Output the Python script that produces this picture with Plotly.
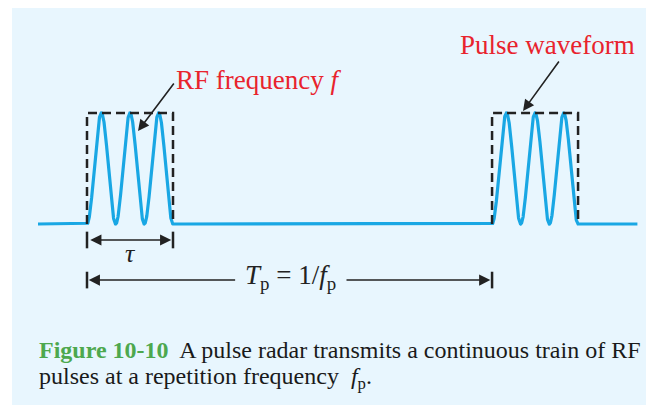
import numpy as np
import plotly.graph_objects as go

# pulse train description (time in units of tau, amplitude normalised)
tau = 1.0
T_p = 4.71
pulse_starts = [0.0, T_p]
cycles_per_pulse = 3
t_begin, t_end = -0.57, 6.4

blue = "#19A7E4"
red = "#E8232D"
green = "#4DA84E"
serif = "Liberation Serif, Times New Roman, serif"

# page body has an 8px margin, so the figure is sized to fit the window
W, H, OFF = 646, 399, 8

# build the waveform: flat line with raised-cosine RF bursts
t = np.linspace(t_begin, t_end, 4000)
t = np.sort(np.concatenate([t] + [np.array([s, s + tau]) for s in pulse_starts]))
y = np.zeros_like(t)
for s in pulse_starts:
    m = (t >= s) & (t <= s + tau)
    y[m] = (1 - np.cos(2 * np.pi * cycles_per_pulse * (t[m] - s) / tau)) / 2

fig = go.Figure()

# light blue panel
fig.add_shape(type="rect", xref="paper", yref="paper", x0=(12-OFF)/W, x1=1, y0=1-(405-OFF)/H, y1=1,
              fillcolor="#E8F6FE", line_width=0, layer="below")

fig.add_trace(go.Scatter(x=t, y=y, mode="lines", line=dict(color=blue, width=3.2), hoverinfo="skip"))

# dashed envelope boxes
for s in pulse_starts:
    fig.add_trace(go.Scatter(x=[s, s, s + tau, s + tau], y=[0, 1, 1, 0], mode="lines",
                             line=dict(color="#222222", width=2.5, dash="9px,5px"), hoverinfo="skip"))

# tick bars for tau and Tp
tau_y, tp_y = -0.144, -0.505
for xb, yb in [(0, tau_y), (tau, tau_y), (0, tp_y), (T_p, tp_y)]:
    fig.add_trace(go.Scatter(x=[xb, xb], y=[yb - 0.075, yb + 0.075], mode="lines",
                             line=dict(color="#222222", width=2.5), hoverinfo="skip"))

anns = []
arrow = dict(showarrow=True, arrowhead=2, arrowsize=1.4, arrowwidth=1.6, arrowcolor="#222222",
             axref="x", ayref="y", text="", standoff=0, startstandoff=0)
# tau double arrow
anns.append(dict(x=tau - 0.02, y=tau_y, ax=0.02, ay=tau_y, arrowside="end+start", **arrow))
anns.append(dict(x=0.5, y=-0.265, text="<i>τ</i>", showarrow=False, font=dict(size=26, family=serif, color="#222")))
# Tp arrows
anns.append(dict(x=0.02, y=tp_y, ax=1.74, ay=tp_y, **arrow))
anns.append(dict(x=T_p - 0.02, y=tp_y, ax=3.0, ay=tp_y, **arrow))
anns.append(dict(x=2.37, y=tp_y + 0.03, text="<i>T</i><sub>p</sub> = 1/<i>f</i><sub>p</sub>", showarrow=False,
                 font=dict(size=27, family=serif, color="#222")))
# label arrows
anns.append(dict(x=0.593, y=0.838, ax=1.023, ay=1.279, **arrow))
anns.append(dict(x=5.07, y=1.018, ax=5.50, ay=1.477, **arrow))
anns.append(dict(x=1.012, y=1.297, xanchor="left", text="RF frequency <i>f</i>", showarrow=False,
                 font=dict(size=27, family=serif, color=red)))
anns.append(dict(x=5.35, y=1.61, text="Pulse waveform", showarrow=False,
                 font=dict(size=27, family=serif, color=red)))
# caption
anns.append(dict(xref="paper", yref="paper", x=(37-OFF)/W, y=1-(350-OFF)/H, xanchor="left", yanchor="middle",
                 showarrow=False, align="left",
                 text=f"<b><span style='color:{green}'>Figure 10-10</span></b>  A pulse radar transmits a continuous train of RF",
                 font=dict(size=24, family=serif, color="#1a1a1a")))
anns.append(dict(xref="paper", yref="paper", x=(37-OFF)/W, y=1-(378-OFF)/H, xanchor="left", yanchor="middle",
                 showarrow=False, align="left",
                 text="pulses at a repetition frequency  <i>f</i><sub>p</sub>.",
                 font=dict(size=24, family=serif, color="#1a1a1a")))

fig.update_layout(
    width=W, height=H, margin=dict(l=0, r=0, t=0, b=0),
    paper_bgcolor="white", plot_bgcolor="rgba(0,0,0,0)", showlegend=False,
    annotations=anns,
    xaxis=dict(range=[(OFF-87)/86, (W+OFF-87)/86], visible=False, fixedrange=True),
    yaxis=dict(range=[(224-H-OFF)/111, (224-OFF)/111], visible=False, fixedrange=True),
)
fig.write_html("out.html")
